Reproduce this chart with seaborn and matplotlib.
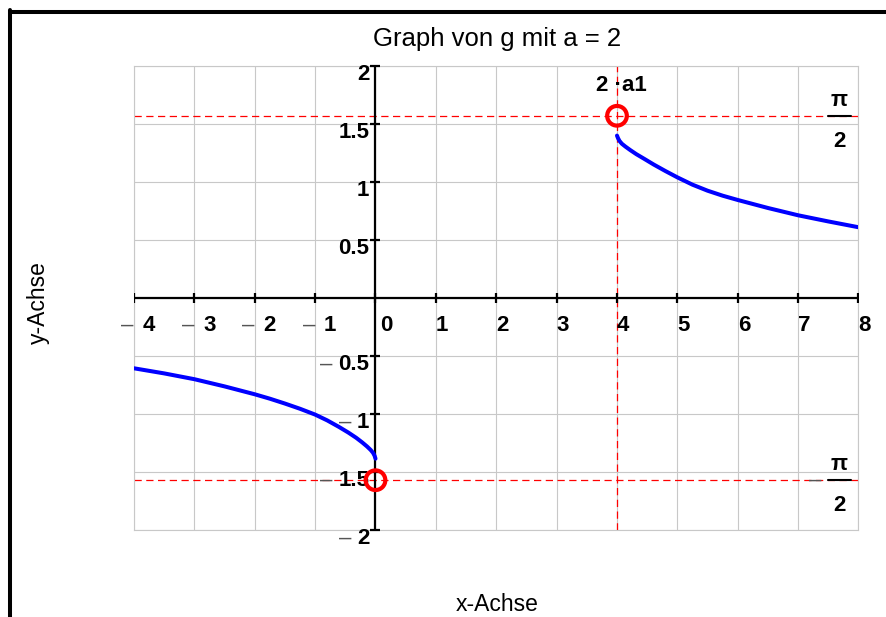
import matplotlib
matplotlib.use("Agg")
import matplotlib.pyplot as plt
import seaborn as sns
from matplotlib.lines import Line2D

# values
x_left = [-4, -3.5, -3, -2.5, -2, -1.75, -1.5, -1.25, -1, -0.8, -0.61, -0.45,
          -0.32, -0.22, -0.14, -0.08, -0.04, -0.015, 0]
y_left = [-0.606, -0.65, -0.70, -0.762, -0.83, -0.868, -0.91, -0.955, -1.005, -1.055,
          -1.11, -1.16, -1.205, -1.245, -1.28, -1.31, -1.335, -1.36, -1.385]
x_right = [4, 4.015, 4.04, 4.08, 4.14, 4.22, 4.32, 4.45, 4.61, 4.8, 5, 5.25, 5.5,
           5.75, 6, 6.5, 7, 7.5, 8]
y_right = [1.40, 1.38, 1.355, 1.33, 1.305, 1.275, 1.24, 1.20, 1.15, 1.095, 1.04,
           0.977, 0.925, 0.882, 0.845, 0.776, 0.713, 0.66, 0.61]

hole_x = [0, 4]
hole_y = [-1.5708, 1.5708]
asym_y = [-1.5708, 1.5708]
asym_x = 4

x_ticks = list(range(-4, 9))
y_ticks = [-2, -1.5, -1, -0.5, 0.5, 1, 1.5, 2]

sns.set_theme(style="white")
plt.rcParams["font.family"] = ["Liberation Sans", "DejaVu Sans"]

W, H = 887, 617
fig = plt.figure(figsize=(W / 100, H / 100), dpi=100)
ax = fig.add_axes([134 / W, 1 - 530 / H, (858.5 - 134) / W, (530 - 66) / H])
ax.set_xlim(-4, 8)
ax.set_ylim(-2, 2)

grid_c = "#c8c8c8"
ax.set_xticks(x_ticks)
ax.set_yticks([-2, -1.5, -1, -0.5, 0, 0.5, 1, 1.5, 2])
ax.tick_params(length=0, labelbottom=False, labelleft=False)
ax.grid(True, color=grid_c, lw=0.8, zorder=0)
for sp in ax.spines.values():
    sp.set_color(grid_c)
    sp.set_linewidth(0.8)

# red asymptote lines
dash = (0, (5.8, 3.6))
for yv in asym_y:
    ax.axhline(yv, color="red", lw=0.9, ls=dash, zorder=2)
ax.axvline(asym_x, color="red", lw=0.9, ls=dash, zorder=2)

# crossing axes
ax.axhline(0, color="black", lw=1.6, zorder=3)
ax.axvline(0, color="black", lw=1.6, zorder=3)
ax.plot(x_ticks, [0] * len(x_ticks), ls="none", marker="|", ms=7.5, mew=1.6,
        color="black", zorder=3)
ax.plot([0] * len(y_ticks), y_ticks, ls="none", marker="_", ms=7.5, mew=1.6,
        color="black", zorder=3, clip_on=False)

# curve pieces
sns.lineplot(x=x_left, y=y_left, ax=ax, color="#0000ff", lw=2.9,
             estimator=None, sort=False, zorder=4)
sns.lineplot(x=x_right, y=y_right, ax=ax, color="#0000ff", lw=2.9,
             estimator=None, sort=False, zorder=4)

# open circles
sns.scatterplot(x=hole_x, y=hole_y, ax=ax, s=200, marker="o", zorder=6)
coll = ax.collections[-1]
coll.set_facecolor("none")
coll.set_edgecolor("red")
coll.set_linewidth(3.0)
coll.set_clip_on(False)

lab = dict(fontsize=16, fontweight="bold", color="black")
minus = dict(fontsize=16, fontweight="normal", color="#555555")

def fmt(v):
    a = abs(v)
    return str(int(a)) if a == int(a) else str(a)

# x tick labels
for v in x_ticks:
    dx = 0 if v > 0 else (5 if v == 0 else 9)
    t = ax.annotate(fmt(v), xy=(v, 0), xytext=(dx, -33), textcoords="offset pixels",
                    ha="left", va="baseline", annotation_clip=False, **lab)
    if v < 0:
        ax.annotate("\u2013", xy=(0, 0), xycoords=(t, "data"), xytext=(-9, -33),
                    textcoords="offset pixels", ha="right", va="baseline",
                    annotation_clip=False, **minus)

# y tick labels
for v in y_ticks:
    t = ax.annotate(fmt(v), xy=(0, v), xytext=(-6, -14), textcoords="offset pixels",
                    ha="right", va="baseline", annotation_clip=False, **lab)
    if v < 0:
        ax.annotate("\u2013", xy=(0, v), xycoords=(t, "data"), xytext=(-6, -14),
                    textcoords="offset pixels", ha="right", va="baseline",
                    annotation_clip=False, **minus)

# 2·a1 label above the vertical asymptote
ax.annotate("2 \u00b7a1", xy=(asym_x, asym_y[1]), xytext=(4, 25), textcoords="offset pixels",
            ha="center", va="baseline", annotation_clip=False, **lab)

# pi/2 fractions at the right
fx = 7.68
for yv in asym_y:
    ax.annotate("\u03c0", xy=(fx, yv), xytext=(0, 10), textcoords="offset pixels",
                ha="center", va="baseline", annotation_clip=False, **lab)
    ax.annotate("2", xy=(fx, yv), xytext=(0, -31), textcoords="offset pixels",
                ha="center", va="baseline", annotation_clip=False, **lab)
    ax.plot([fx - 0.19, fx + 0.19], [yv, yv], color="black", lw=1.5, zorder=5,
            clip_on=False)
    if yv < 0:
        ax.annotate("\u2013", xy=(fx, yv), xytext=(-18, -5), textcoords="offset pixels",
                    ha="right", va="baseline", annotation_clip=False, **minus)

fig.text(497 / W, 1 - 46 / H, "Graph von g mit a = 2", ha="center", va="baseline",
         fontsize=18.5, color="black")
fig.text(497 / W, 1 - 611 / H, "x-Achse", ha="center", va="baseline",
         fontsize=16.5, color="black")
fig.text(38 / W, 1 - 303 / H, "y-Achse", ha="center", va="center", rotation=90,
         fontsize=16.5, color="black")

# frame lines at the top and left
fig.add_artist(Line2D([10 / W, 1], [1 - 12 / H] * 2, color="black", lw=2.9,
                      transform=fig.transFigure))
fig.add_artist(Line2D([10 / W] * 2, [0, 1 - 10 / H], color="black", lw=2.9,
                      transform=fig.transFigure))

fig.savefig("out.png", dpi=100)
